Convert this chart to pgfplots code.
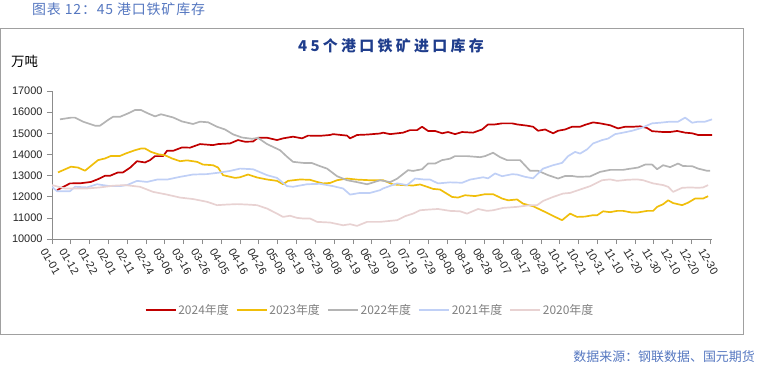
\documentclass[border=0pt]{standalone}
\usepackage{fontspec}
\setmainfont{Liberation Sans}
\newfontfamily\cjk{Noto Sans CJK SC}
\usepackage{pgfplots}
\usepackage{pgfplotstable}
\pgfplotsset{compat=1.18}
\definecolor{c24}{HTML}{C00000}
\definecolor{c23}{HTML}{F0BE0A}
\definecolor{c22}{HTML}{B4B4B4}
\definecolor{c21}{HTML}{C0D0F6}
\definecolor{c20}{HTML}{E8D2D2}
\definecolor{titleblue}{HTML}{5577C0}
\definecolor{darkblue}{HTML}{1F3D8C}
\definecolor{framegray}{HTML}{A0A0A0}

\pgfplotstableread{
p v
57 12310
70 12630
81 12640
91 12700
98 12830
105 12990
110 12990
118 13150
123 13150
130 13370
137 13680
145 13620
150 13730
155 13920
163 13920
167 14170
173 14170
182 14330
190 14320
200 14490
213 14440
218 14490
230 14520
238 14680
245 14600
253 14610
258 14790
267 14790
277 14680
283 14760
293 14840
302 14760
308 14890
320 14880
330 14920
333 14960
347 14890
350 14760
357 14920
367 14940
380 14990
383 15030
390 14960
403 15030
410 15150
417 15150
422 15310
428 15110
435 15110
442 15000
448 15060
455 14960
462 15060
473 15030
482 15180
488 15420
495 15420
502 15470
512 15470
517 15420
527 15360
533 15310
538 15120
545 15180
553 15000
558 15120
565 15180
572 15310
580 15310
585 15400
593 15515
600 15470
610 15380
618 15230
625 15310
633 15310
640 15330
647 15250
652 15100
663 15060
670 15060
677 15110
685 15030
692 15000
698 14920
712 14920
}\tA
\pgfplotstableread{
p v
58 13150
71 13420
78 13380
85 13230
98 13730
105 13810
111 13930
120 13930
126 14050
135 14200
141 14280
145 14280
151 14120
158 14010
165 13960
172 13810
180 13680
187 13720
197 13650
203 13520
213 13490
218 13380
223 13020
235 12890
240 12920
248 13050
257 12910
267 12815
277 12750
283 12590
288 12750
300 12815
310 12800
317 12700
323 12630
330 12650
337 12780
347 12860
357 12810
370 12780
383 12780
393 12580
403 12550
413 12530
420 12580
427 12470
433 12370
440 12340
452 11990
458 11960
465 12070
475 12030
485 12120
493 12120
502 11915
508 11830
517 11870
523 11670
533 11550
545 11280
555 11045
562 10890
570 11200
577 11045
585 11060
592 11120
597 11120
603 11310
610 11270
617 11330
623 11330
632 11250
637 11250
647 11330
653 11330
657 11520
663 11645
668 11830
673 11700
682 11600
688 11720
695 11915
703 11915
708 12025
}\tB
\pgfplotstableread{
p v
60 15660
71 15740
75 15740
83 15550
95 15360
100 15360
108 15630
113 15780
120 15780
128 15940
135 16100
141 16100
148 15940
155 15800
161 15900
173 15750
182 15560
193 15440
200 15550
208 15520
217 15310
225 15180
233 14950
242 14800
252 14740
258 14780
267 14490
280 14200
287 13890
293 13650
303 13600
312 13590
320 13445
327 13330
337 12970
347 12780
357 12690
367 12590
370 12630
380 12780
390 12690
397 12850
408 13255
413 13220
422 13300
428 13570
435 13570
442 13730
450 13800
455 13920
467 13920
480 13870
485 13920
493 14080
500 13870
507 13730
520 13730
530 13225
538 13225
548 13020
558 12860
565 12980
572 12980
578 12940
590 12960
600 13175
610 13270
623 13270
628 13310
638 13380
645 13520
652 13520
657 13300
663 13490
670 13400
678 13570
683 13450
692 13445
698 13330
707 13225
710 13225
}\tC
\pgfplotstableread{
p v
52 12470
57 12260
70 12260
75 12470
87 12440
97 12590
110 12500
120 12500
127 12550
137 12750
147 12700
157 12810
167 12810
180 12940
193 13050
207 13070
220 13145
230 13220
240 13330
253 13300
267 13020
277 12890
287 12500
293 12470
307 12590
320 12610
333 12500
343 12390
350 12100
360 12180
370 12180
380 12310
383 12390
397 12630
407 12550
415 12860
425 12810
430 12810
438 12630
450 12680
462 12660
470 12810
483 12920
488 12870
495 13100
502 12970
512 13065
517 13050
525 12940
533 12870
543 13330
553 13490
562 13600
568 13920
575 14120
580 14040
587 14240
593 14520
602 14680
608 14750
615 14960
623 15030
632 15120
640 15230
652 15470
660 15500
670 15550
678 15550
685 15740
692 15500
698 15550
705 15550
712 15660
}\tD
\pgfplotstableread{
p v
52 12550
65 12390
87 12390
100 12440
113 12520
125 12550
140 12470
153 12230
167 12100
180 11960
193 11890
207 11760
217 11600
227 11630
237 11650
247 11630
257 11600
267 11440
277 11200
283 11045
290 11100
297 11000
303 10970
310 10970
317 10810
330 10780
343 10650
350 10700
357 10620
367 10810
380 10810
397 10890
405 11080
413 11200
420 11360
428 11390
438 11420
450 11330
460 11310
467 11200
478 11420
487 11330
493 11360
503 11470
517 11520
530 11600
537 11600
543 11800
553 11990
563 12150
570 12180
580 12340
590 12500
602 12780
610 12820
617 12750
627 12800
637 12820
643 12780
653 12630
663 12550
668 12470
673 12230
682 12420
690 12440
698 12420
703 12440
708 12550
}\tE

\begin{document}
\begin{tikzpicture}
\path[use as bounding box] (0bp,0bp) rectangle (768bp,-376bp);
\draw[framegray, line width=0.8bp] (0.5bp,-28bp) rectangle (743bp,-334bp);
\node[anchor=west, inner sep=0pt, font=\cjk\fontsize{14}{16}\selectfont\addfontfeature{LetterSpace=6}, text=titleblue] at (32bp,-9bp) {图表 12：45 港口铁矿库存};
\node[inner sep=0pt, font=\cjk\bfseries\fontsize{15}{17}\selectfont\addfontfeature{LetterSpace=22}, text=darkblue] at (391bp,-46bp) {45个港口铁矿进口库存};
\node[anchor=west, inner sep=0pt, font=\cjk\fontsize{13.5}{15}\selectfont] at (11bp,-61bp) {万吨};
\node[anchor=east, inner sep=0pt, font=\cjk\fontsize{13}{15}\selectfont, text=titleblue] at (755bp,-357bp) {数据来源：钢联数据、国元期货};
\begin{axis}[
  at={(52bp,-239bp)}, anchor=south west,
  scale only axis, width=660bp, height=148bp,
  xmin=0, xmax=35.1, ymin=10000, ymax=17000,
  axis lines=left, axis line style={draw=gray!90, -, line width=0.7bp},
  tick style={draw=gray!90, line width=0.7bp}, tick align=outside, major tick length=5bp,
  ytick={10000,11000,...,17000},
  scaled y ticks=false,
  yticklabel style={font=\fontsize{11}{11}\selectfont, text=black!85, xshift=-1bp},
  /pgf/number format/assume math mode=true,
  /pgf/number format/1000 sep={},
  xtick={0,...,35},
  xticklabels={01-01,01-12,01-22,02-01,02-11,02-24,03-06,03-16,03-26,04-05,04-16,04-26,05-08,05-19,05-29,06-08,06-19,06-29,07-09,07-19,07-29,08-08,08-18,08-28,09-07,09-17,09-28,10-11,10-21,10-31,11-10,11-20,11-30,12-10,12-20,12-30},
  xticklabel style={font=\fontsize{11}{11}\selectfont, text=black!85, rotate=-60, anchor=north west, inner sep=0pt, xshift=0bp, yshift=-6bp},
  legend columns=5,
  legend style={draw=none, fill=none, at={(0.5,0)}, anchor=center, yshift=-71bp, xshift=-12bp,
    font=\cjk\fontsize{12}{14}\selectfont, text=gray,
    /tikz/every even column/.append style={column sep=5bp}},
  legend image code/.code={\draw[#1] (0bp,0bp) -- (30bp,0bp);},
  every axis plot/.append style={line width=1.7bp, line join=round},
]
\addplot[c24] table[x expr=(\thisrow{p}-52)/18.8, y=v] {\tA};
\addlegendentry{2024年度}
\addplot[c23] table[x expr=(\thisrow{p}-52)/18.8, y=v] {\tB};
\addlegendentry{2023年度}
\addplot[c22] table[x expr=(\thisrow{p}-52)/18.8, y=v] {\tC};
\addlegendentry{2022年度}
\addplot[c21] table[x expr=(\thisrow{p}-52)/18.8, y=v] {\tD};
\addlegendentry{2021年度}
\addplot[c20] table[x expr=(\thisrow{p}-52)/18.8, y=v] {\tE};
\addlegendentry{2020年度}
\end{axis}
\end{tikzpicture}
\end{document}
